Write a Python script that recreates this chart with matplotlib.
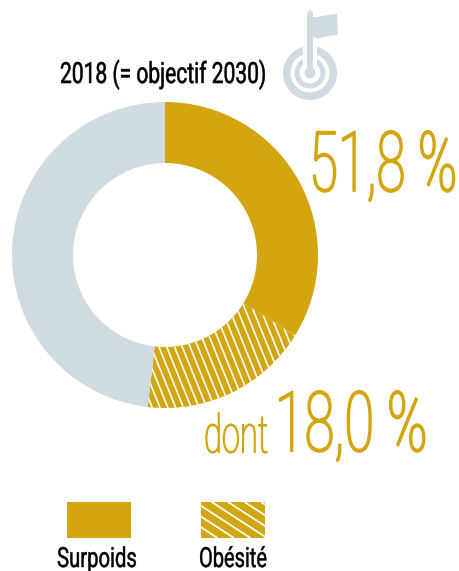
import numpy as np
import matplotlib
matplotlib.use("Agg")
import matplotlib.pyplot as plt
from matplotlib.patches import Rectangle, Circle, Wedge, Polygon
from matplotlib.patheffects import AbstractPathEffect
from matplotlib.text import Text
from matplotlib.transforms import Affine2D, Bbox

# data
shares = [33.8, 18.0, 48.2]          # surpoids hors obesite, obesite, reste (total surpoids 51,8 %)
slice_names = ["Surpoids", "Obésité", "Autres"]
title_label = "2018 (= objectif 2030)"
big_labels = ["51,8 %", "18,0 %"]
small_label = "dont"

GOLD = "#D3A50F"
GRAY = "#CFDAE1"
W, H = 459, 571
FONT = "Roboto"


class Condense(AbstractPathEffect):
    """Narrow a text horizontally around its display anchor, with optional extra stroke."""
    def __init__(self, sx, ax, x, stroke=0):
        super().__init__()
        self.sx, self.ax, self.x, self.stroke = sx, ax, x, stroke

    def draw_path(self, renderer, gc, tpath, affine, rgbFace=None):
        x0 = self.ax.transData.transform((self.x, 0))[0]
        t = affine + Affine2D().translate(-x0, 0).scale(self.sx, 1).translate(x0, 0)
        g = renderer.new_gc()
        g.copy_properties(gc)
        if self.stroke:
            g.set_foreground(rgbFace)
            g.set_linewidth(self.stroke)
        renderer.draw_path(g, tpath, t, rgbFace)
        g.restore()


class CondensedText(Text):
    """Text whose reported extent follows its condensed drawing."""
    sx = 1.0

    def get_window_extent(self, renderer=None, dpi=None):
        bb = super().get_window_extent(renderer, dpi)
        return Bbox.from_extents(bb.x0, bb.y0, bb.x0 + (bb.x1 - bb.x0) * self.sx, bb.y1)


fig = plt.figure(figsize=(W / 100, H / 100), dpi=100)
ax = fig.add_axes([0, 0, 1, 1])


def Y(y):
    return H - y


def label(x, y, s, size, color, sx, weight="regular", stroke=0):
    t = CondensedText(x, Y(y), s, fontsize=size, color=color, ha="left", va="baseline",
                      family=FONT, fontweight=weight, clip_on=False)
    t.sx = sx
    ax.add_artist(t)
    t.set_path_effects([Condense(sx, ax, x, stroke)])
    return t


def stripes(patch, angle_deg, period, lw, x0, x1, y0, y1):
    """White parallel lines clipped to a patch, period measured horizontally in px."""
    a = np.radians(angle_deg)
    dx = (y1 - y0) / np.tan(a)
    for x in np.arange(x0 - abs(dx) - period, x1 + abs(dx) + period, period):
        ln, = ax.plot([x, x + dx], [Y(y0), Y(y1)], color="white", lw=lw, solid_capstyle="butt")
        ln.set_clip_path(patch)


# donut
cx, cy, R, r = 165, 255, 153, 92
wedges, _ = ax.pie(shares, colors=[GOLD, GOLD, GRAY], startangle=90, counterclock=False,
                   radius=R, center=(cx, Y(cy)), frame=True,
                   wedgeprops=dict(width=R - r, linewidth=0))
stripes(wedges[1], 68, 7.8, 1.2, cx - R, cx + R, cy - R, cy + R)

# legend
leg_solid = Rectangle((67, Y(538)), 64, 36, fc=GOLD, ec="none")
leg_hatch = Rectangle((201, Y(538)), 64, 36, fc=GOLD, ec="none")
ax.add_patch(leg_solid)
ax.add_patch(leg_hatch)
stripes(leg_hatch, 33, 16.5, 1.3, 201, 265, 502, 538)
label(57, 567, slice_names[0], 20, "#000000", 0.73, stroke=0.35)
label(199, 567, slice_names[1], 20, "#000000", 0.72, stroke=0.35)

# target icon
ix, iy = 310, 73
ax.add_patch(Wedge((ix, Y(iy)), 27, 0, 360, width=7.5, fc=GRAY, ec="none"))
ax.add_patch(Wedge((ix, Y(iy)), 15.5, 0, 360, width=5, fc=GRAY, ec="none"))
ax.add_patch(Rectangle((ix - 7, Y(iy)), 14, 30, fc="white", ec="none"))
ax.add_patch(Circle((ix, Y(iy)), 5.5, fc=GRAY, ec="none"))
ax.add_patch(Rectangle((ix - 2.6, Y(iy)), 5.2, 60, fc=GRAY, ec="none"))
ax.add_patch(Circle((ix, Y(13)), 2.6, fc=GRAY, ec="none"))
ax.add_patch(Polygon([(ix, Y(17)), (ix + 8, Y(17)), (ix + 18, Y(15)), (ix + 27, Y(13.5)),
                      (ix + 28, Y(35)), (ix + 18, Y(36)), (ix + 8, Y(38.5)), (ix, Y(36))],
                     closed=True, fc=GRAY, ec="none"))

# texts
label(60, 83, title_label, 21, "#000000", 0.72, stroke=0.4)
label(309, 191, big_labels[0], 60, GOLD, 0.632, weight="light", stroke=1.4)
label(275, 451, big_labels[1], 60, GOLD, 0.65, weight="light", stroke=1.4)
label(204, 452.5, small_label, 38, GOLD, 0.62, weight="light", stroke=0.9)

ax.set_xlim(0, W)
ax.set_ylim(0, H)
ax.set_aspect("equal")
ax.axis("off")
fig.savefig("out.png", dpi=100, facecolor="white")
